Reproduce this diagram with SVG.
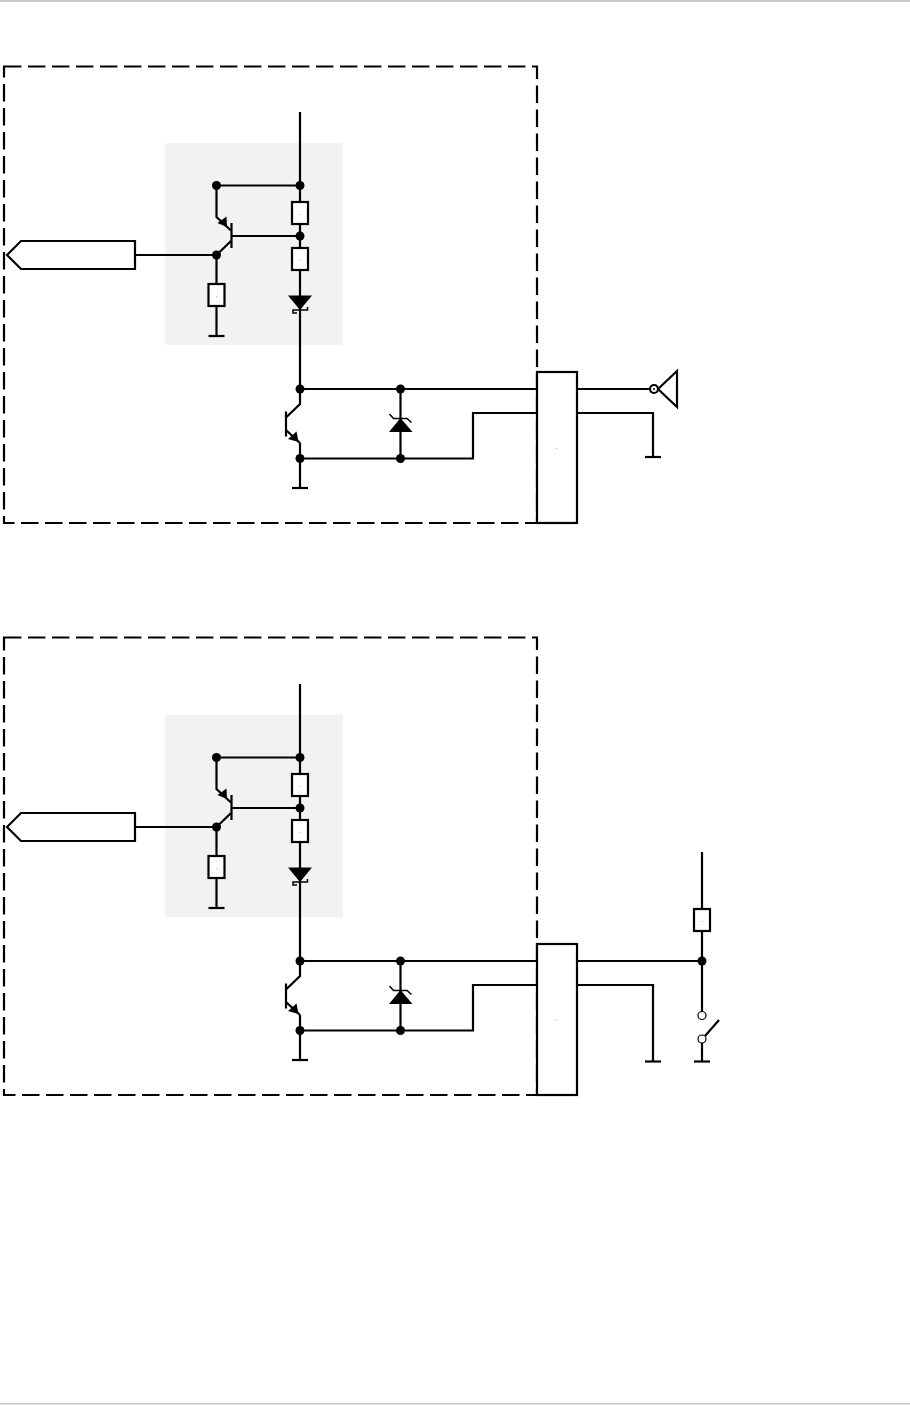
<svg xmlns="http://www.w3.org/2000/svg" width="910" height="1405" viewBox="0 0 910 1405">
<style>
.w{fill:none;stroke:#000;stroke-width:2.200}
.b{fill:#fff;stroke:#000;stroke-width:2.200}
.f{fill:#000;stroke:none}
.t{font-family:"Liberation Sans",sans-serif;font-size:6px;fill:#000;text-anchor:middle}
</style>
<defs>
<g id="res"><rect class="b" x="-8" y="-11" width="16" height="22"/></g>
<circle id="dot" class="f" r="4.500"/>
<path id="gnd" class="w" d="M-8 0H8"/>
</defs>
<rect x="0" y="0" width="910" height="2" fill="#c8c8c8"/>
<rect x="0" y="1403" width="910" height="1.500" fill="#c8c8c8"/>

<g id="circuit-1">
<rect id="frame-1" class="w" x="4" y="66.500" width="533" height="456.500" stroke-dasharray="17.500 6.500"/>
<rect id="shade-1" x="165" y="143" width="178" height="202" fill="#f2f2f2"/>
<g id="connectors-1">
<path class="w" d="M300 112V389M216.500 185.500H300M216.500 185.500V217L231 230.500M231.500 236H300M231 241L216.500 255M135 255H216.500M216.500 255V336"/>
<path class="w" d="M300 389H537M300 458.500H473V413H537M400.500 389V458.500M300 443V488"/>
<path class="w" d="M577 389H650M577 413H653V457"/>
</g>
<g id="input-1"><path class="b" d="M7 255L21 241H135V269H21Z"/></g>
<g id="q1-1"><path class="w" d="M231.500 223V248"/><path class="f" d="M217.500 223L226.500 216.500L227 227Z"/></g>
<g id="r1-1"><use href="#res" x="300" y="213"/><text class="t" x="300" y="214.500">.</text></g>
<g id="r2-1"><use href="#res" x="300" y="259"/><text class="t" x="300" y="260.500">.</text></g>
<g id="r3-1"><use href="#res" x="216.500" y="295"/><text class="t" x="216.500" y="296.500">.</text></g>
<g id="d1-1"><path class="f" d="M288 295.500H312L300 310Z"/><path fill="none" stroke="#000" stroke-width="1.500" d="M297 313H293V310H307.500V307"/></g>
<g id="g1-1"><use href="#gnd" x="216.500" y="336"/></g>
<g id="q2-1"><path class="w" d="M300 389V404L286 417.500M286 411.500V436.500M286 430L300 443"/><path class="f" d="M288 439L296.500 431.500L298.500 442Z"/></g>
<g id="g2-1"><use href="#gnd" x="300" y="488"/></g>
<g id="d2-1"><path class="f" d="M389 432H412.500L400.500 418Z"/><path fill="none" stroke="#000" stroke-width="1.500" d="M389.500 414L393.500 418.500H407L411.500 422.500"/></g>
<g id="junctions-1"><use href="#dot" x="216.500" y="185.500"/><use href="#dot" x="300" y="185.500"/><use href="#dot" x="300" y="236"/><use href="#dot" x="216.500" y="255"/><use href="#dot" x="300" y="389"/><use href="#dot" x="400.500" y="389"/><use href="#dot" x="300" y="458.500"/><use href="#dot" x="400.500" y="458.500"/></g>
<g id="conn-1"><rect class="b" x="537" y="372" width="40" height="151"/><text class="t" x="556.500" y="449">.</text></g>
<g id="g3-1"><use href="#gnd" x="653" y="457"/></g>
<g id="lamp-1"><path class="w" d="M658 389L677 371V407Z"/><circle class="b" cx="654" cy="389" r="4"/><circle class="f" cx="654" cy="389" r="1"/></g>
</g>

<g id="circuit-2">
<rect id="frame-2" class="w" x="4" y="637.500" width="533" height="457.500" stroke-dasharray="17.500 6.500"/>
<rect id="shade-2" x="165" y="715" width="178" height="202" fill="#f2f2f2"/>
<g id="connectors-2">
<path class="w" d="M300 684V961M216.500 757.500H300M216.500 757.500V789L231 802.500M231.500 808H300M231 813L216.500 827M135 827H216.500M216.500 827V908"/>
<path class="w" d="M300 961H537M300 1030.500H473V985H537M400.500 961V1030.500M300 1015V1060"/>
<path class="w" d="M577 961H702M577 985H653V1061M702 852V1012M702 1043V1061M705 1036L719 1020"/>
</g>
<g id="input-2"><path class="b" d="M7 827L21 813H135V841H21Z"/></g>
<g id="q1-2"><path class="w" d="M231.500 795V820"/><path class="f" d="M217.500 795L226.500 788.500L227 799Z"/></g>
<g id="r1-2"><use href="#res" x="300" y="785"/><text class="t" x="300" y="786.500">.</text></g>
<g id="r2-2"><use href="#res" x="300" y="831"/><text class="t" x="300" y="832.500">.</text></g>
<g id="r3-2"><use href="#res" x="216.500" y="867"/><text class="t" x="216.500" y="868.500">.</text></g>
<g id="d1-2"><path class="f" d="M288 867.500H312L300 882Z"/><path fill="none" stroke="#000" stroke-width="1.500" d="M297 885H293V882H307.500V879"/></g>
<g id="g1-2"><use href="#gnd" x="216.500" y="908"/></g>
<g id="q2-2"><path class="w" d="M300 961V976L286 989.500M286 983.500V1008.500M286 1002L300 1015"/><path class="f" d="M288 1011L296.500 1003.500L298.500 1014Z"/></g>
<g id="g2-2"><use href="#gnd" x="300" y="1060"/></g>
<g id="d2-2"><path class="f" d="M389 1004H412.500L400.500 990Z"/><path fill="none" stroke="#000" stroke-width="1.500" d="M389.500 986L393.500 990.500H407L411.500 994.500"/></g>
<g id="junctions-2"><use href="#dot" x="216.500" y="757.500"/><use href="#dot" x="300" y="757.500"/><use href="#dot" x="300" y="808"/><use href="#dot" x="216.500" y="827"/><use href="#dot" x="300" y="961"/><use href="#dot" x="400.500" y="961"/><use href="#dot" x="300" y="1030.500"/><use href="#dot" x="400.500" y="1030.500"/><use href="#dot" x="702" y="961"/></g>
<g id="conn-2"><rect class="b" x="537" y="944" width="40" height="151"/><text class="t" x="556.500" y="1021">.</text></g>
<g id="g3-2"><use href="#gnd" x="653" y="1061.500"/></g>
<g id="r4-2"><use href="#res" x="702" y="920"/><text class="t" x="702" y="921.500">.</text></g>
<g id="switch-2"><circle cx="702" cy="1015.500" r="4" fill="#fff" stroke="#000" stroke-width="1.200"/><circle cx="702" cy="1039" r="4" fill="#fff" stroke="#000" stroke-width="1.200"/></g>
<g id="g4-2"><use href="#gnd" x="702" y="1061.500"/></g>
</g>
</svg>
